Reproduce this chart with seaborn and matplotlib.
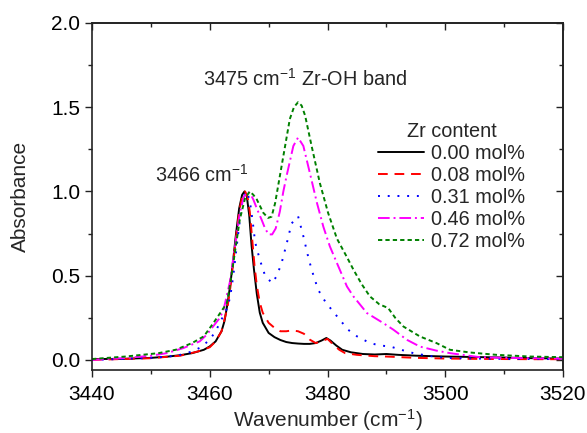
import numpy as np
import pandas as pd
import matplotlib
matplotlib.use("Agg")
import matplotlib.pyplot as plt
import seaborn as sns
from matplotlib.ticker import MultipleLocator

sns.set_style("ticks")
plt.rcParams['font.family'] = ['Liberation Sans', 'DejaVu Sans']
plt.rcParams['mathtext.fontset'] = 'custom'
plt.rcParams['mathtext.rm'] = 'Liberation Sans'
plt.rcParams['mathtext.it'] = 'Liberation Sans:italic'

# ---------------- data ----------------
labels = ["0.00 mol%", "0.08 mol%", "0.31 mol%", "0.46 mol%", "0.72 mol%"]

x_000 = [3440, 3445, 3450, 3453, 3455, 3457, 3459, 3460, 3461, 3462, 3462.5, 3463, 3463.5,
         3464, 3464.5, 3465, 3465.5, 3465.9, 3466.3, 3466.7, 3467.1, 3467.5, 3468, 3468.5,
         3469, 3470, 3471, 3472, 3473, 3474, 3475, 3476, 3477, 3478, 3479, 3479.8, 3480.5,
         3481.5, 3482.5, 3484, 3486, 3488, 3490, 3492, 3495, 3500, 3505, 3510, 3515, 3520]
y_000 = [0.005, 0.006, 0.012, 0.02, 0.028, 0.04, 0.06, 0.08, 0.11, 0.17, 0.23, 0.33, 0.45,
         0.60, 0.76, 0.90, 0.98, 1.0, 0.97, 0.86, 0.68, 0.54, 0.39, 0.28, 0.22, 0.16,
         0.135, 0.118, 0.106, 0.10, 0.097, 0.095, 0.095, 0.10, 0.115, 0.13, 0.115,
         0.085, 0.06, 0.045, 0.035, 0.032, 0.035, 0.03, 0.025, 0.02, 0.017, 0.014, 0.01, 0.008]

x_008 = [3440, 3445, 3450, 3455, 3458, 3460, 3461, 3462, 3463, 3463.5, 3464, 3464.5, 3465,
         3465.5, 3466, 3466.4, 3466.8, 3467.2, 3467.6, 3468, 3468.5, 3469, 3470, 3471, 3472,
         3473, 3474, 3475, 3476, 3477, 3478, 3479, 3480, 3481, 3482, 3483, 3485, 3488, 3490,
         3495, 3500, 3505, 3510, 3515, 3520]
y_008 = [0.0, 0.005, 0.01, 0.025, 0.05, 0.075, 0.11, 0.17, 0.31, 0.43, 0.58, 0.74, 0.88,
         0.97, 1.0, 0.97, 0.88, 0.72, 0.56, 0.44, 0.34, 0.28, 0.22, 0.19, 0.17, 0.17, 0.175,
         0.17, 0.155, 0.12, 0.10, 0.11, 0.125, 0.09, 0.06, 0.04, 0.03, 0.022, 0.02, 0.012,
         0.008, 0.006, 0.005, 0.004, 0.004]

x_031 = [3440, 3445, 3450, 3453, 3455, 3457, 3458.5, 3460, 3461, 3462, 3463, 3463.5, 3464,
         3464.5, 3465, 3465.5, 3466.1, 3466.5, 3466.9, 3467.3, 3467.7, 3468.5, 3469.4, 3470.6,
         3471.4, 3472.2, 3473.1, 3473.9, 3475.0, 3475.9, 3476.7, 3477.3, 3478.4, 3479.6,
         3480.7, 3482.1, 3483.5, 3485, 3487.2, 3489, 3490.6, 3492.5, 3494.6, 3497, 3500,
         3505, 3510, 3515, 3520]
y_031 = [0.0, 0.005, 0.012, 0.02, 0.03, 0.05, 0.075, 0.12, 0.17, 0.24, 0.31, 0.38, 0.50,
         0.65, 0.80, 0.93, 1.0, 0.98, 0.92, 0.82, 0.70, 0.595, 0.50, 0.455, 0.50, 0.575,
         0.695, 0.81, 0.853, 0.734, 0.615, 0.536, 0.417, 0.347, 0.298, 0.238, 0.179, 0.14,
         0.10, 0.085, 0.08, 0.06, 0.04, 0.025, 0.012, 0.008, 0.006, 0.005, 0.005]

x_046 = [3440, 3445, 3447, 3450, 3452.7, 3455.5, 3458.3, 3459.5, 3460.6, 3461.5, 3462.3,
         3463.4, 3464.3, 3465.1, 3465.8, 3466.5, 3467.0, 3467.4, 3468.1, 3468.8, 3469.4,
         3470.0, 3470.6, 3471.2, 3471.9, 3472.5, 3473.1, 3474.2, 3475.0, 3475.9, 3477.0,
         3478.2, 3479.3, 3480.4, 3481.6, 3483.3, 3484.4, 3486.7, 3489.5, 3491.2, 3493.5,
         3495.7, 3498.5, 3500.8, 3505.9, 3510, 3515, 3520]
y_046 = [0.0, 0.01, 0.015, 0.025, 0.04, 0.07, 0.11, 0.15, 0.20, 0.24, 0.29, 0.46, 0.674,
         0.87, 0.97, 1.0, 0.98, 0.952, 0.89, 0.833, 0.78, 0.745, 0.745, 0.78, 0.88, 1.0,
         1.10, 1.27, 1.32, 1.27, 1.11, 0.933, 0.79, 0.674, 0.575, 0.436, 0.377, 0.278, 0.218,
         0.179, 0.119, 0.079, 0.055, 0.04, 0.016, 0.012, 0.01, 0.008]

x_072 = [3440, 3445.7, 3451.3, 3454.2, 3457, 3459, 3460.6, 3462, 3462.9, 3463.4, 3464.0,
         3465.1, 3466.0, 3466.8, 3467.4, 3468.0, 3469.1, 3469.9, 3470.5, 3471.1, 3471.6,
         3472.5, 3473.6, 3474.3, 3475.0, 3475.6, 3476.2, 3477.3, 3478.7, 3480.1, 3481.6,
         3483.3, 3484.4, 3485.8, 3487.2, 3488.8, 3490.3, 3491.5, 3492.9, 3495.7, 3498.5,
         3500.8, 3504.2, 3508.7, 3514.4, 3520]
y_072 = [0.005, 0.02, 0.04, 0.06, 0.10, 0.14, 0.218, 0.29, 0.337, 0.437, 0.575, 0.833,
         0.96, 1.0, 0.98, 0.952, 0.873, 0.843, 0.85, 0.93, 1.03, 1.21, 1.43, 1.50, 1.53,
         1.51, 1.45, 1.27, 1.05, 0.873, 0.72, 0.61, 0.536, 0.45, 0.377, 0.33, 0.308, 0.25,
         0.198, 0.139, 0.10, 0.06, 0.044, 0.03, 0.02, 0.016]

series_x = [x_000, x_008, x_031, x_046, x_072]
series_y = [y_000, y_008, y_031, y_046, y_072]
colors = ["black", "#ff0000", "#0000ff", "#ff00ff", "#008000"]
dash_styles = ["-", (0, (5, 3.5)), (0, (1.0, 4.0)), (0, (6, 2, 1, 2)), (0, (2.2, 1.6))]

# ---------------- figure ----------------
fig = plt.figure(figsize=(5.87, 4.33), dpi=100)
ax = fig.add_axes([92 / 587, 1 - 370 / 433, (563 - 92) / 587, (370 - 23) / 433])

for xs, ys, lab, c, ls in zip(series_x, series_y, labels, colors, dash_styles):
    df = pd.DataFrame({"x": xs, "y": ys})
    sns.lineplot(data=df, x="x", y="y", ax=ax, color=c, linestyle=ls,
                 linewidth=1.4, label=lab, sort=True, errorbar=None)

ax.set_xlim(3440, 3520)
ax.set_ylim(-0.06, 2.0)
ax.xaxis.set_major_locator(MultipleLocator(20))
ax.xaxis.set_minor_locator(MultipleLocator(10))
ax.yaxis.set_major_locator(MultipleLocator(0.5))
ax.yaxis.set_minor_locator(MultipleLocator(0.25))
ax.yaxis.set_major_formatter(matplotlib.ticker.FormatStrFormatter('%.1f'))

fs = 14.3
tfs = 15
ax.tick_params(axis='both', which='major', direction='out', length=5, width=1,
               labelsize=tfs, colors='#222222', labelcolor='black')
ax.tick_params(axis='x', which='major', pad=5.5)
ax.tick_params(axis='y', which='major', pad=3.5)
ax.tick_params(axis='both', which='minor', direction='out', length=3, width=1,
               colors='#222222')

for side in ['top', 'right']:
    sec = ax.secondary_xaxis('top') if side == 'top' else ax.secondary_yaxis('right')
    axis = sec.xaxis if side == 'top' else sec.yaxis
    if side == 'top':
        axis.set_major_locator(MultipleLocator(20))
        axis.set_minor_locator(MultipleLocator(10))
    else:
        axis.set_major_locator(MultipleLocator(0.5))
        axis.set_minor_locator(MultipleLocator(0.25))
    sec.tick_params(which='major', direction='in', length=5, width=1, colors='#222222')
    sec.tick_params(which='minor', direction='in', length=3, width=1, colors='#222222')
    if side == 'top':
        sec.tick_params(labeltop=False)
    else:
        sec.tick_params(labelright=False)
    for sp in sec.spines.values():
        sp.set_linewidth(1.2)
        sp.set_color('#222222')

for sp in ax.spines.values():
    sp.set_visible(True)
    sp.set_linewidth(1.2)
    sp.set_color('#222222')

ax.set_xlabel("Wavenumber (cm$^{-1}$)", fontsize=tfs, labelpad=2.5)
ax.set_ylabel("Absorbance", fontsize=tfs, labelpad=15)

ax.text(3476.2, 1.667, "3475 cm$^{-1}$ Zr-OH band", fontsize=fs, ha='center', va='center')
ax.text(3458.7, 1.10, "3466 cm$^{-1}$", fontsize=fs, ha='center', va='center')

leg = ax.legend(title="Zr content", loc='upper left', bbox_to_anchor=(0.59, 0.738),
                frameon=False, fontsize=fs, title_fontsize=fs, handlelength=2.3,
                handletextpad=0.4, labelspacing=0.15, borderaxespad=0, borderpad=0.4)

fig.savefig("out.png", dpi=100)
